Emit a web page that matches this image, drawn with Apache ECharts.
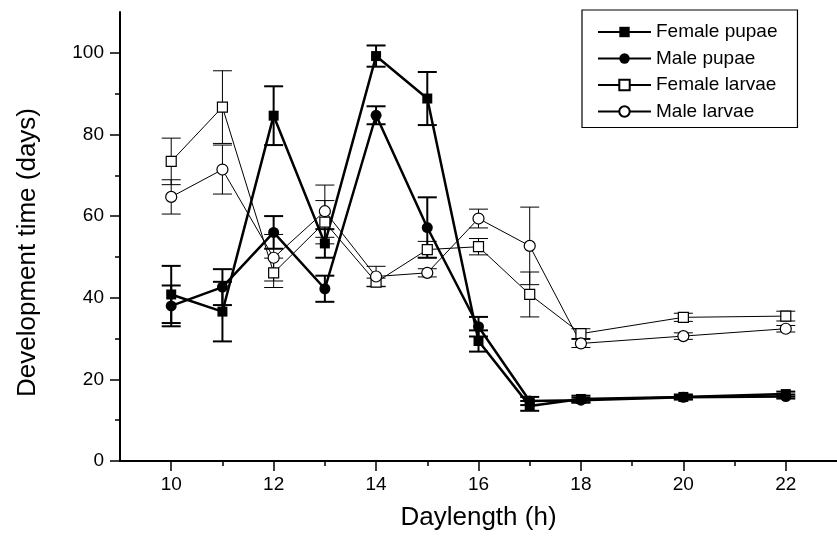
<!DOCTYPE html>
<html>
<head>
<meta charset="utf-8">
<script src="https://cdn.jsdelivr.net/npm/echarts@6/dist/echarts.min.js"></script>
<style>
  html, body { margin: 0; padding: 0; background: #fff; }
  #chart-container { width: 837px; height: 537px; }
</style>
</head>
<body>
<div id="chart-container"></div>
<script>
// daylength (h)
const days = [10, 11, 12, 13, 14, 15, 16, 17, 18, 20, 22];

// mean development time (days) and error (+/-)
const femalePupae    = [40.8, 36.6, 84.6, 53.3, 99.2, 88.8, 29.4, 13.5, 15.2, 15.7, 16.4];
const femalePupaeErr = [7.0, 7.3, 7.2, 3.5, 2.6, 6.5, 2.6, 1.2, 0.8, 0.6, 0.6];
const malePupae      = [38.0, 42.6, 56.0, 42.2, 84.7, 57.2, 32.9, 14.7, 14.9, 15.6, 15.8];
const malePupaeErr   = [5.0, 4.4, 4.0, 3.2, 2.2, 7.4, 2.4, 1.0, 0.6, 0.5, 0.5];
const femaleLarvae    = [73.4, 86.7, 46.1, 58.5, 43.8, 51.8, 52.5, 40.8, 31.2, 35.2, 35.5];
const femaleLarvaeErr = [5.7, 8.9, 3.6, 5.3, 1.0, 2.0, 2.0, 5.5, 1.2, 1.0, 1.2];
const maleLarvae      = [64.7, 71.4, 49.8, 61.2, 45.2, 46.1, 59.4, 52.7, 28.8, 30.6, 32.4];
const maleLarvaeErr   = [4.2, 6.0, 5.7, 6.4, 2.5, 1.0, 2.3, 9.5, 1.0, 0.8, 0.8];

const xLabels = [10, 12, 14, 16, 18, 20, 22];
const xMinor = [11, 13, 15, 17, 19, 21];
const yLabels = [0, 20, 40, 60, 80, 100];
const yMinor = [10, 30, 50, 70, 90];

const FONT = '"Liberation Sans", Arial, sans-serif';

const pairs = (ys) => days.map((d, i) => [d, ys[i]]);
const bars = (ys, es) => days.map((d, i) => [d, ys[i] - es[i], ys[i] + es[i]]);

// vertical error bar with caps
const errorBar = (lw) => (params, api) => {
	const x = api.value(0);
	const lo = api.coord([x, api.value(1)]);
	const hi = api.coord([x, api.value(2)]);
	const half = 9.5;
	const style = { stroke: '#000', lineWidth: lw, fill: null };
	return {
		type: 'group',
		children: [
			{ type: 'line', shape: { x1: lo[0], y1: lo[1], x2: hi[0], y2: hi[1] }, style: style },
			{ type: 'line', shape: { x1: lo[0] - half, y1: lo[1], x2: lo[0] + half, y2: lo[1] }, style: style },
			{ type: 'line', shape: { x1: hi[0] - half, y1: hi[1], x2: hi[0] + half, y2: hi[1] }, style: style }
		]
	};
};

const errSeries = (data, lw) => ({
	type: 'custom',
	renderItem: errorBar(lw),
	data: data,
	encode: { x: 0, y: [1, 2] },
	z: 1,
	silent: true
});

const lineSeries = (name, data, symbol, size, filled, lw) => ({
	name: name,
	type: 'line',
	data: data,
	symbol: symbol,
	symbolSize: size,
	showAllSymbol: true,
	lineStyle: { color: '#000', width: lw },
	itemStyle: filled
		? { color: '#000', borderColor: '#000', borderWidth: 0 }
		: { color: '#fff', borderColor: '#000', borderWidth: 1.2 },
	z: 3
});

const chart = echarts.init(document.getElementById('chart-container'));
chart.setOption({
	animation: false,
	backgroundColor: '#fff',
	textStyle: { fontFamily: FONT, color: '#000' },
	grid: { left: 120, right: -8, top: 12, bottom: 76 },
	legend: {
		orient: 'vertical',
		left: 582,
		top: 10,
		padding: [12, 20, 6, 15],
		itemWidth: 53,
		itemHeight: 13,
		itemGap: 6.5,
		borderColor: '#000',
		borderWidth: 1.2,
		textStyle: { fontFamily: FONT, fontSize: 19, color: '#000', lineHeight: 20 },
		data: ['Female pupae', 'Male pupae', 'Female larvae', 'Male larvae']
	},
	xAxis: [{
		type: 'value',
		min: 9,
		max: 23,
		name: 'Daylength (h)',
		nameLocation: 'middle',
		nameGap: 44,
		nameTextStyle: { fontFamily: FONT, fontSize: 26, color: '#000' },
		axisLine: { lineStyle: { color: '#000', width: 2 } },
		axisTick: { customValues: xMinor, length: 5, lineStyle: { color: '#000', width: 1.5 } },
		axisLabel: { customValues: xLabels, fontFamily: FONT, fontSize: 19, color: '#000', margin: 14 },
		splitLine: { show: false }
	}, {
		type: 'value',
		min: 9,
		max: 23,
		position: 'bottom',
		axisLine: { show: false },
		axisTick: { customValues: xLabels, length: 10, lineStyle: { color: '#000', width: 1.5 } },
		axisLabel: { show: false },
		splitLine: { show: false }
	}],
	yAxis: [{
		type: 'value',
		min: 0,
		max: 110,
		name: 'Development time (days)',
		nameLocation: 'middle',
		nameGap: 79,
		nameTextStyle: { fontFamily: FONT, fontSize: 26, color: '#000', padding: [0, 32, 0, 0] },
		axisLine: { show: true, lineStyle: { color: '#000', width: 2 } },
		axisTick: { show: true, customValues: yLabels, length: 10, lineStyle: { color: '#000', width: 1.5 } },
		axisLabel: { customValues: yLabels, fontFamily: FONT, fontSize: 19, color: '#000', margin: 16 },
		splitLine: { show: false }
	}, {
		type: 'value',
		min: 0,
		max: 110,
		position: 'left',
		axisLine: { show: false },
		axisTick: { show: true, customValues: yMinor, length: 5, lineStyle: { color: '#000', width: 1.5 } },
		axisLabel: { show: false },
		splitLine: { show: false }
	}],
	series: [
		errSeries(bars(femaleLarvae, femaleLarvaeErr), 1),
		errSeries(bars(maleLarvae, maleLarvaeErr), 1),
		errSeries(bars(femalePupae, femalePupaeErr), 2),
		errSeries(bars(malePupae, malePupaeErr), 2),
		lineSeries('Female larvae', pairs(femaleLarvae), 'rect', 10, false, 1),
		lineSeries('Male larvae', pairs(maleLarvae), 'circle', 11, false, 1),
		lineSeries('Female pupae', pairs(femalePupae), 'rect', 10, true, 2.5),
		lineSeries('Male pupae', pairs(malePupae), 'circle', 11, true, 2.5)
	]
});
</script>
</body>
</html>
